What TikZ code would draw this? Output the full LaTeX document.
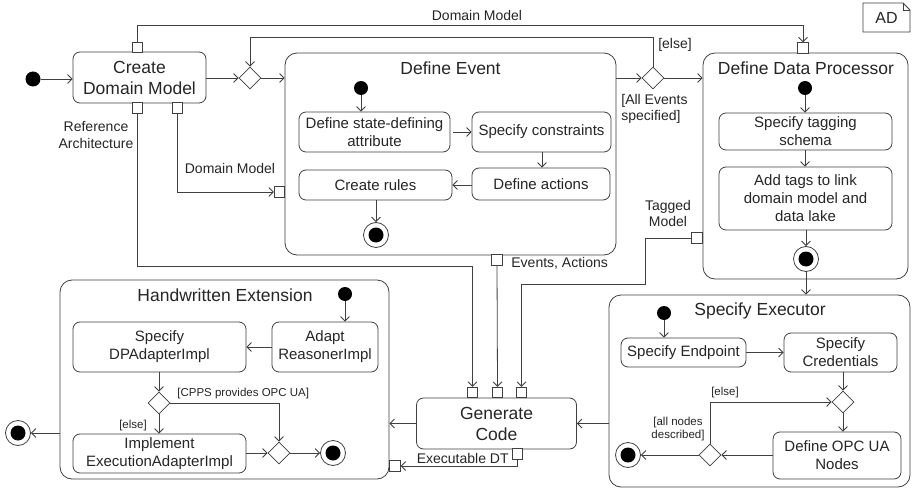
\documentclass[tikz,border=0pt]{standalone}
\usepackage{fontspec}
\setmainfont{Liberation Sans}
\usetikzlibrary{arrows.meta,shapes.geometric,calc}
\begin{document}
\begin{tikzpicture}[x=1pt,y=-1pt,
  line width=0.8pt,
  every node/.style={text=black!85},
  arr/.style={draw=black!75,-{Straight Barb[length=4.5pt,width=9pt]}},
  act/.style={draw=black!75,rounded corners=7pt,align=center,inner sep=0pt,font=\fontsize{15}{18}\selectfont},
  bigact/.style={act,font=\fontsize{17.5}{21}\selectfont},
  cont/.style={draw=black!75,rounded corners=12pt,inner sep=0pt},
  ttl/.style={font=\fontsize{17.5}{21}\selectfont,inner sep=0pt},
  pinbox/.style={draw=black!75,fill=white,minimum size=10.5pt,inner sep=0pt},
  initn/.style={circle,fill=black,minimum size=15pt,inner sep=0pt},
  finaln/.style={circle,draw=black!75,fill=white,minimum size=25pt,inner sep=0pt,path picture={\fill[black] (path picture bounding box.center) circle (7.5pt);}},
  dec/.style={diamond,draw=black!75,fill=white,minimum width=22pt,minimum height=22pt,inner sep=0pt},
  lbl/.style={font=\fontsize{14}{16.5}\selectfont,align=center,inner sep=0pt},
  glbl/.style={font=\fontsize{11.5}{12.5}\selectfont,align=center,inner sep=0pt},
]
\fill[white] (0,0) rectangle (912,489);
\useasboundingbox (0,0) rectangle (912,489);

% ---------- containers ----------
\node[cont,minimum width=331pt,minimum height=202pt] (de) at (450.5,154) {};
\node[ttl] (det) at (450.5,68) {Define Event};
\node[cont,minimum width=205pt,minimum height=226pt] (ddp) at (805.5,166) {};
\node[ttl] (ddpt) at (806,68) {Define Data Processor};
\node[cont,minimum width=301pt,minimum height=192pt] (se) at (759.5,391) {};
\node[ttl] (set) at (760,311) {Specify Executor};
\node[cont,minimum width=329pt,minimum height=199pt] (he) at (224.5,379.5) {};
\node[ttl] (het) at (225,295) {Handwritten Extension};

% ---------- top level ----------
\node[initn] (i0) at (33,79) {};
\node[bigact,minimum width=133pt,minimum height=51pt] (cdm) at (139.5,77.5) {Create\\Domain Model};
\node[dec] (d1) at (250,78) {};
\node[dec] (d2) at (653,78) {};
\node[bigact,minimum width=160pt,minimum height=51pt] (gc) at (496.5,423.5) {Generate\\Code};
\node[finaln] (fa) at (18,433) {};

% pins
\node[pinbox] (pt) at (137.5,47.5) {};
\node[pinbox] (pra) at (137.5,108) {};
\node[pinbox] (pdm) at (177.5,108) {};
\node[pinbox] (pde) at (279.5,192) {};
\node[pinbox] (pev) at (497,260) {};
\node[pinbox] (pdp) at (803,48) {};
\node[pinbox] (ptag) at (697,238) {};
\node[pinbox] (gp1) at (472.5,392.5) {};
\node[pinbox] (gp2) at (497.5,392.5) {};
\node[pinbox] (gp3) at (521.5,392.5) {};
\node[pinbox] (gpb) at (517.5,454) {};
\node[pinbox] (hep) at (395,466) {};

% ---------- Define Event inner ----------
\node[initn,minimum size=14pt] (dei) at (361,88) {};
\node[act,minimum width=151pt,minimum height=40pt] (dea) at (374.5,132) {Define state-defining\\attribute};
\node[act,minimum width=139pt,minimum height=40pt] (deb) at (541.5,132) {Specify constraints};
\node[act,minimum width=138pt,minimum height=32pt] (dec) at (541,184) {Define actions};
\node[act,minimum width=153pt,minimum height=30pt] (ded) at (375.5,185) {Create rules};
\node[finaln] (def) at (376,235) {};
\draw[arr] (dei) -- (dei |- dea.north);
\draw[arr,shorten <=3pt] (dea.east) -- (dea -| deb.west);
\draw[arr] (542,152) coordinate (cb1) -- (cb1 |- dec.north);
\draw[arr] (dec.west |- ded) -- (ded.east);
\draw[arr] (ded.south -| def) -- (def.north);

% ---------- Define Data Processor inner ----------
\node[initn,minimum size=14pt] (ddpi) at (805,88) {};
\node[act,minimum width=173pt,minimum height=37pt] (ddpa) at (805.5,131.5) {Specify tagging\\schema};
\node[act,minimum width=173pt,minimum height=63pt] (ddpb) at (805.5,198.5) {Add tags to link\\domain model and\\data lake};
\node[finaln] (ddpf) at (806,259) {};
\draw[arr] (ddpi) -- (ddpi |- ddpa.north);
\draw[arr] (ddpa.south -| ddpi) -- (ddpb.north -| ddpi);
\draw[arr] (ddpb.south -| ddpf) -- (ddpf.north);

% ---------- Specify Executor inner ----------
\node[initn,minimum size=14pt] (sei) at (664,313) {};
\node[act,minimum width=125pt,minimum height=29pt] (sea) at (683.5,352.5) {Specify Endpoint};
\node[act,minimum width=113pt,minimum height=39pt] (seb) at (840.5,352.5) {Specify\\Credentials};
\node[dec] (d3) at (843,402) {};
\node[act,minimum width=128pt,minimum height=47pt] (sec) at (837,455.5) {Define OPC UA\\Nodes};
\node[dec] (d4) at (710,455) {};
\node[finaln] (sef) at (628,455) {};
\draw[arr] (sei) -- (sei |- sea.north);
\draw[arr] (sea.east) -- (sea -| seb.west);
\draw[arr] (seb.south -| d3) -- (d3.north);
\draw[arr] (d3.south) -- (d3 |- sec.north);
\draw[arr] (sec.west |- d4) -- (d4.east);
\draw[arr] (d4.north) |- (d3.west);
\draw[arr] (d4.west) -- (sef.east);
\node[glbl] (lse1) at (725,393) {[else]};
\node[glbl] (lse2) at (678,429) {[all nodes\\described]};

% ---------- Handwritten Extension inner ----------
\node[initn,minimum size=14pt] (hei) at (345,294) {};
\node[act,minimum width=106pt,minimum height=50pt] (hea) at (325,347) {Adapt\\ReasonerImpl};
\node[act,minimum width=173pt,minimum height=50pt] (heb) at (159.5,347) {Specify\\DPAdapterImpl};
\node[dec] (d5) at (159,403) {};
\node[act,minimum width=173pt,minimum height=39pt] (hec) at (159.5,453.5) {Implement\\ExecutionAdapterImpl};
\node[dec] (d6) at (279,453) {};
\node[finaln] (hef) at (333,453) {};
\draw[arr] (hei) -- (hei |- hea.north);
\draw[arr] (hea.west) -- (heb.east);
\draw[arr] (heb.south -| d5) -- (d5.north);
\draw[arr] (d5.south) -- (d5 |- hec.north);
\draw[arr] (d5.east) -| (d6.north);
\draw[arr] (hec.east |- d6) -- (d6.west);
\draw[arr] (d6.east) -- (hef.west);
\node[glbl,anchor=west] (lhe1) at (177,394) {[CPPS provides OPC UA]};
\node[glbl] (lhe2) at (133,426) {[else]};

% ---------- top level connectors ----------
\draw[arr] (i0) -- (i0 -| cdm.west);
\draw[arr] (cdm.east |- d1) -- (d1.west);
\draw[arr] (d1.east) -- (d1 -| de.west);
\draw[arr] (d1 -| de.east) -- (d2.west);
\draw[arr] (d2.east) -- (d2 -| ddp.west);
\draw[arr] (d2.north) -- ++(0,-29) -| (d1.north);
\draw[arr] (pt.north) -- ++(0,-16) -| (pdp.north);
\coordinate (k1) at (472.5,266);
\draw[arr] (pra.south) |- (k1) -- (gp1.north);
\draw[arr] (pdm.south) |- (pde.west);
\draw[arr] (pev.south) -- (gp2.north);
\coordinate (k2) at (645,284);
\draw[arr] (ptag.west) -| (k2) -| (gp3.north);
\draw[arr] (ddpf.south) -- (ddpf |- se.north);
\draw[arr] (se.west |- gc) -- (gc.east);
\draw[arr] (gc.west) -- (gc -| he.east);
\draw[arr] (gpb.south) |- (hep.east);
\draw[arr] (he.west |- fa) -- (fa.east);

% labels
\node[lbl] (ldm1) at (477,15) {Domain Model};
\node[lbl] (lelse1) at (675,45) {[else]};
\node[lbl,align=left,anchor=west] (lall) at (621,109) {[All Events\\specified]};
\node[lbl] (lra) at (96,135) {Reference\\Architecture};
\node[lbl] (ldm2) at (230,168) {Domain Model};
\node[lbl,anchor=west] (lev) at (511,263) {Events, Actions};
\node[lbl] (ltag) at (668,213.5) {Tagged\\Model};
\node[lbl,anchor=east] (lexe) at (509,458.5) {Executable DT};

% AD tag
\draw[draw=black!75] (863,3) -- (903,3) -- (910,10) -- (910,32) -- (863,32) -- cycle;
\draw[draw=black!75,line width=0.6pt] (903,3) -- (903,10) -- (910,10);
\node[font=\fontsize{16}{19}\selectfont,inner sep=0pt] (ad) at (886.5,18) {AD};
\end{tikzpicture}
\end{document}
